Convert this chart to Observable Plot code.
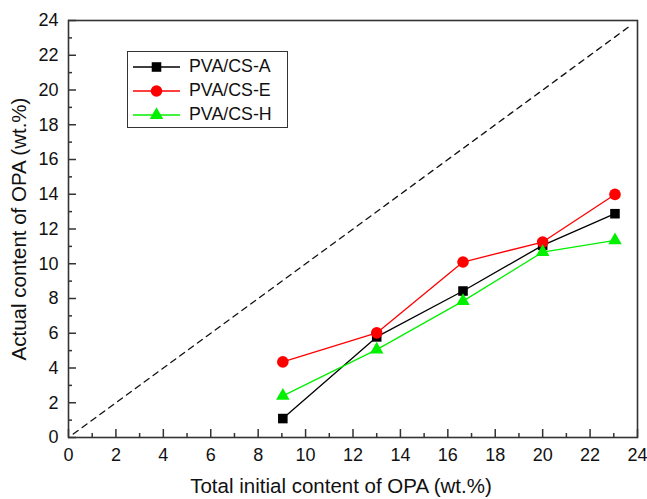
<!DOCTYPE html>
<html>
<head>
<meta charset="utf-8">
<script src="https://cdn.jsdelivr.net/npm/d3@7"></script>
<script src="https://cdn.jsdelivr.net/npm/@observablehq/plot@0.6"></script>
<style>
  body { margin: 0; background: #fff; font-family: "Liberation Sans", Arial, sans-serif; }
  #wrap { position: relative; width: 647px; height: 499px; }
  #wrap svg g[aria-label$="tick label"] { font-size: 18px; }
  #legend { position: absolute; left: 127px; top: 51px; width: 159px; height: 75px;
    border: 1.5px solid #333; background: #fff; box-sizing: content-box; }
  .row { position: absolute; left: 0; height: 20px; display: flex; align-items: center; }
  .row span { font-size: 17.8px; color: #111; margin-left: 8px; white-space: nowrap; }
</style>
</head>
<body>
<div id="wrap"></div>
<script>
const xValues = [9.04, 13.0, 16.64, 20.0, 23.05];
const seriesNames = ["PVA/CS-A", "PVA/CS-E", "PVA/CS-H"];
const valuesA = [1.09, 5.79, 8.43, 11.06, 12.88];
const valuesE = [4.35, 6.02, 10.1, 11.25, 13.99];
const valuesH = [2.4, 5.06, 7.85, 10.67, 11.35];
const colors = ["#000000", "#ff0000", "#00f000"];
const symbols = ["square", "circle", "triangle"];
const radii = [5.4, 5.8, 5.0];
const majorTicks = [0, 2, 4, 6, 8, 10, 12, 14, 16, 18, 20, 22, 24];
const minorTicks = [1, 3, 5, 7, 9, 11, 13, 15, 17, 19, 21, 23];
const diagonal = [0.2, 23.7];
const xTitle = "Total initial content of OPA (wt.%)";
const yTitle = "Actual content of OPA (wt.%)";

const allValues = [valuesA, valuesE, valuesH];
const data = [];
allValues.forEach((vals, si) => vals.forEach((v, i) => data.push({series: seriesNames[si], x: xValues[i], y: v})));

const seriesMarks = seriesNames.flatMap((name, si) => {
  const d = data.filter(r => r.series === name);
  return [
    Plot.line(d, {x: "x", y: "y", stroke: colors[si], strokeWidth: 1.3}),
    Plot.dot(d, {x: "x", y: "y", fill: colors[si], symbol: symbols[si], r: radii[si]})
  ];
});

const chart = Plot.plot({
  width: 647,
  height: 499,
  marginLeft: 68,
  marginRight: 10,
  marginTop: 20,
  marginBottom: 62,
  style: {fontFamily: "'Liberation Sans', Arial, sans-serif", fontSize: "18px", color: "#111", background: "#fff"},
  x: {domain: [0, 24]},
  y: {domain: [0, 24]},
  marks: [
    Plot.line(diagonal, {x: d => d, y: d => d, stroke: "#111", strokeWidth: 1.3, strokeDasharray: "6,5"}),
    ...seriesMarks,
    Plot.axisX(majorTicks, {tickSize: -8, tickPadding: 19, strokeWidth: 1.5, stroke: "#333", label: null}),
    Plot.axisX(minorTicks, {tickSize: -4, text: null, strokeWidth: 1.5, stroke: "#333", label: null}),
    Plot.axisY(majorTicks, {tickSize: -8, tickPadding: 18, strokeWidth: 1.5, stroke: "#333", label: null}),
    Plot.axisY(minorTicks, {tickSize: -4, text: null, strokeWidth: 1.5, stroke: "#333", label: null}),
    Plot.frame({stroke: "#333", strokeWidth: 1.6}),
    Plot.text([xTitle], {text: d => d, frameAnchor: "bottom", dy: 55, dx: -12, fontSize: 20.5, fill: "#111"}),
    Plot.text([yTitle], {text: d => d, frameAnchor: "left", textAnchor: "middle", dx: -49, rotate: -90, fontSize: 20.5, fill: "#111"})
  ]
});

const wrap = document.getElementById("wrap");
wrap.appendChild(chart);

const legend = document.createElement("div");
legend.id = "legend";
const rowTops = [4.5, 28.5, 52.5];
seriesNames.forEach((name, si) => {
  const row = document.createElement("div");
  row.className = "row";
  row.style.top = rowTops[si] + "px";
  const svg = d3.create("svg").attr("width", 53).attr("height", 20);
  svg.append("line").attr("x1", 5).attr("x2", 52).attr("y1", 10).attr("y2", 10)
    .attr("stroke", colors[si]).attr("stroke-width", 1.3);
  const symMap = {square: d3.symbolSquare, circle: d3.symbolCircle, triangle: d3.symbolTriangle};
  svg.append("path").attr("d", d3.symbol(symMap[symbols[si]], Math.PI * radii[si] * radii[si])())
    .attr("transform", "translate(28.5,10)").attr("fill", colors[si]);
  row.appendChild(svg.node());
  const span = document.createElement("span");
  span.textContent = name;
  row.appendChild(span);
  legend.appendChild(row);
});
wrap.appendChild(legend);
</script>
</body>
</html>
